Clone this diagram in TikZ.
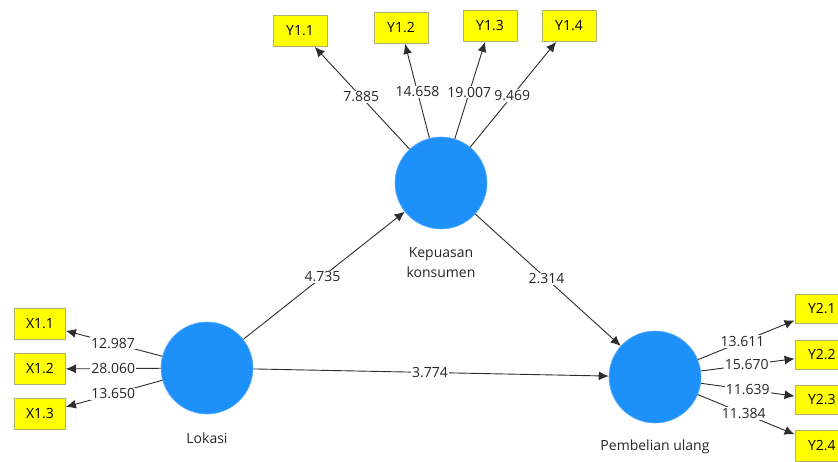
\documentclass[tikz,border=0pt]{standalone}
\usepackage{fontspec}
\setmainfont{Open Sans}
\usetikzlibrary{arrows.meta}
\definecolor{lvblue}{RGB}{30,144,250}
\definecolor{indyellow}{RGB}{255,255,0}
\definecolor{indborder}{RGB}{175,175,110}
\definecolor{edgegray}{RGB}{45,45,45}
\begin{document}
\begin{tikzpicture}[x=1pt,y=-1pt,
  font=\fontsize{14}{16}\selectfont,
  latent/.style={circle,fill=lvblue,draw=lvblue!70!white,line width=0.6pt,minimum size=92pt,inner sep=0pt},
  ind/.style={rectangle,fill=indyellow,draw=indborder,line width=0.8pt,minimum width=54pt,minimum height=31pt,inner sep=0pt},
  conn/.style={draw=edgegray,line width=0.9pt,-{Latex[length=10pt,width=9pt]}},
  wt/.style={fill=white,inner sep=1pt,text=black!85},
  lbl/.style={text=black!85,align=center}]
\useasboundingbox (0,0) rectangle (838,461);
\clip (0,0) rectangle (838,461);
\fill[white] (0,0) rectangle (838,461);
% latent variables
\node[latent] (K) at (441,183) {};
\node[latent] (L) at (207,368) {};
\node[latent] (P) at (655,377) {};
\node[lbl] (Klab) at (441,263) {Kepuasan\\[4pt]konsumen};
\node[lbl] (Llab) at (207,438) {Lokasi};
\node[lbl] (Plab) at (655,447) {Pembelian ulang};
% indicators
\node[ind] (Y11) at (300,31) {Y1.1};
\node[ind] (Y12) at (401,28) {Y1.2};
\node[ind] (Y13) at (490,26) {Y1.3};
\node[ind] (Y14) at (569,26) {Y1.4};
\node[ind,minimum width=51pt] (X11) at (40,324) {X1.1};
\node[ind,minimum width=51pt] (X12) at (40,369) {X1.2};
\node[ind,minimum width=51pt] (X13) at (40,414) {X1.3};
\node[ind,minimum height=29pt,minimum width=56pt,text width=48pt,align=left] (Y21) at (823,309) {\hspace{9pt}Y2.1};
\node[ind,minimum height=29pt,minimum width=56pt,text width=48pt,align=left] (Y22) at (823,355) {\hspace{9pt}Y2.2};
\node[ind,minimum height=29pt,minimum width=56pt,text width=48pt,align=left] (Y23) at (823,400) {\hspace{9pt}Y2.3};
\node[ind,minimum height=31pt,minimum width=56pt,text width=48pt,align=left] (Y24) at (823,446) {\hspace{9pt}Y2.4};
% outer loadings
\draw[conn] (K) -- node[wt,pos=0.51] {7.885} (Y11);
\draw[conn] (K) -- node[wt,pos=0.49] {14.658} (Y12);
\draw[conn] (K) -- node[wt,pos=0.48] {19.007} (Y13);
\draw[conn] (K) -- node[wt,pos=0.49] {9.469} (Y14);
\draw[conn] (L) -- node[wt,pos=0.51] {12.987} (X11);
\draw[conn] (L) -- node[wt,pos=0.50] {28.060} (X12);
\draw[conn] (L) -- node[wt,pos=0.51] {13.650} (X13);
\draw[conn] (P) -- node[wt,pos=0.46] {13.611} (Y21);
\draw[conn] (P) -- node[wt,pos=0.49] {15.670} (Y22);
\draw[conn] (P) -- node[wt,pos=0.50] {11.639} (Y23);
\draw[conn] (P) -- node[wt,pos=0.475] {11.384} (Y24);
% inner paths
\draw[conn] (L) -- node[wt,pos=0.49] {4.735} (K);
\draw[conn] (K) -- node[wt,pos=0.49] {2.314} (P);
\draw[conn] (L) -- node[wt,pos=0.497] {3.774} (P);
\end{tikzpicture}
\end{document}
